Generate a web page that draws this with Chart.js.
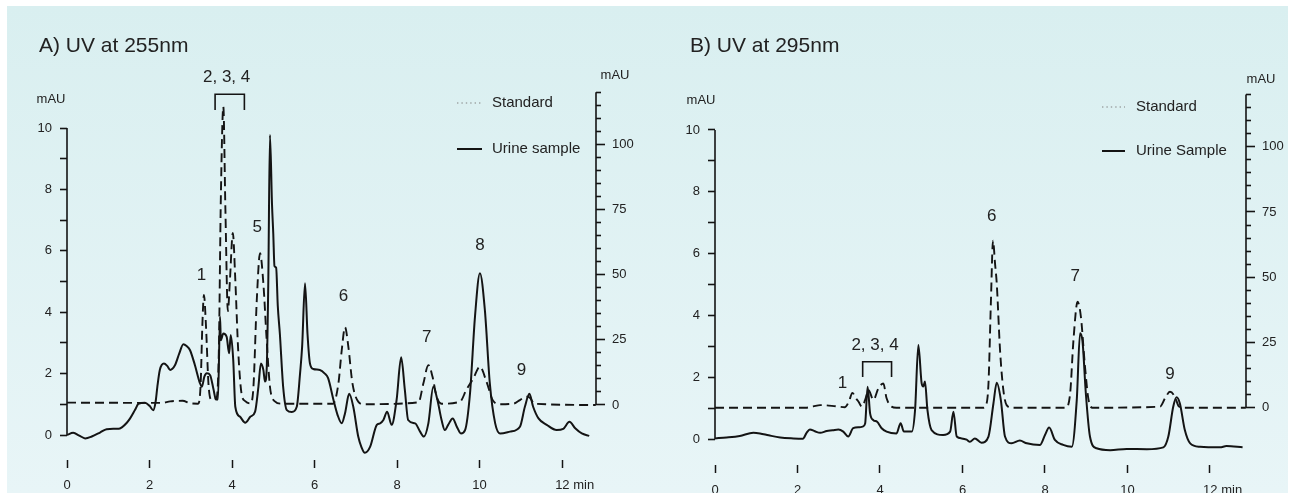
<!DOCTYPE html>
<html>
<head>
<meta charset="utf-8">
<script src="https://cdn.jsdelivr.net/npm/chart.js"></script>
<style>
  html, body { margin: 0; padding: 0; background: #fff; width: 1291px; height: 493px; overflow: hidden; }
  #panel { position: absolute; left: 7px; top: 6px; width: 1281px; height: 487px;
           background: linear-gradient(#d9eff0, #e8f5f7); }
  canvas { position: absolute; top: 0; }
</style>
</head>
<body>
<div id="panel"></div>
<canvas id="uv255" width="645" height="493" style="left:0"></canvas>
<canvas id="uv295" width="646" height="493" style="left:645px"></canvas>
<script>
// ---- axis ticks ----
const TIME_TICKS = [0, 2, 4, 6, 8, 10, 12];
const MAU_TICKS = [0, 1, 2, 3, 4, 5, 6, 7, 8, 9, 10];
const MAU_STD_TICKS = [0, 5, 10, 15, 20, 25, 30, 35, 40, 45, 50, 55, 60,
                       65, 70, 75, 80, 85, 90, 95, 100, 105, 110, 115, 120];

// ---- A) 255 nm : urine sample (left axis, mAU) ----
const urine255_min = [0.00, 0.15, 0.30, 0.44, 0.60, 0.80, 0.96, 1.12, 1.25, 1.33, 1.45, 1.53, 1.65, 1.73,
  1.89, 2.00, 2.09, 2.15, 2.19, 2.25, 2.35, 2.43, 2.50, 2.62, 2.72, 2.82, 2.90, 2.98, 3.10, 3.22, 3.27,
  3.33, 3.39, 3.47, 3.55, 3.61, 3.66, 3.71, 3.73, 3.79, 3.87, 3.93, 3.97, 4.03, 4.08, 4.19, 4.32, 4.45,
  4.56, 4.64, 4.70, 4.76, 4.80, 4.84, 4.88, 4.92, 4.97, 5.00, 5.03, 5.07, 5.11, 5.16, 5.24, 5.33, 5.45,
  5.57, 5.65, 5.70, 5.77, 5.83, 5.89, 5.97, 6.13, 6.25, 6.33, 6.46, 6.56, 6.66, 6.74, 6.84, 6.94, 7.06,
  7.14, 7.22, 7.35, 7.51, 7.59, 7.67, 7.76, 7.87, 7.99, 8.10, 8.19, 8.27, 8.44, 8.56, 8.65, 8.76, 8.88,
  8.98, 9.08, 9.16, 9.24, 9.35, 9.45, 9.55, 9.65, 9.77, 9.89, 10.01, 10.13, 10.25, 10.38, 10.50, 10.74,
  10.98, 11.10, 11.21, 11.30, 11.43, 11.63, 11.87, 12.03, 12.18, 12.32, 12.48, 12.66];
const urine255_mAU = [0.00, 0.07, -0.02, -0.11, -0.05, 0.08, 0.19, 0.20, 0.20, 0.25, 0.40, 0.54, 0.82, 1.01,
  1.05, 0.95, 0.81, 1.10, 1.57, 2.12, 2.33, 2.25, 2.12, 2.28, 2.65, 2.96, 2.90, 2.77, 2.28, 1.70, 1.57,
  1.90, 2.01, 1.95, 1.50, 1.16, 1.16, 3.85, 3.09, 3.31, 3.20, 2.66, 3.26, 2.44, 0.92, 0.60, 0.40, 0.60,
  0.76, 1.57, 2.33, 2.12, 1.74, 2.12, 5.00, 9.77, 7.50, 6.57, 5.50, 5.45, 4.20, 3.30, 1.57, 0.81, 0.75,
  0.92, 2.01, 2.88, 4.94, 3.30, 2.33, 2.15, 2.12, 2.00, 1.85, 1.14, 0.65, 0.38, 0.71, 1.34, 0.92, -0.05,
  -0.40, -0.58, -0.38, 0.33, 0.38, 0.49, 0.76, 0.33, 1.14, 2.53, 1.47, 0.49, 0.38, 0.11, -0.05, 0.38, 1.57,
  1.14, 0.49, 0.16, 0.33, 0.54, 0.27, 0.05, 0.16, 1.36, 3.85, 5.27, 4.07, 1.68, 0.38, 0.05, 0.11,
  0.27, 0.92, 1.34, 0.92, 0.54, 0.33, 0.16, 0.20, 0.43, 0.22, 0.05, -0.03];

// ---- A) 255 nm : standard (right axis, mAU) ----
const std255_min = [0.00, 2.30, 2.50, 2.80, 3.00, 3.18, 3.24, 3.28, 3.32, 3.37, 3.43, 3.50, 3.62, 3.68,
  3.73, 3.79, 3.84, 3.90, 3.95, 4.02, 4.08, 4.15, 4.23, 4.32, 4.45, 4.52, 4.60, 4.68, 4.76, 4.84, 4.92,
  5.04, 5.20, 6.45, 6.58, 6.66, 6.74, 6.82, 6.92, 7.06, 7.20, 8.52, 8.64, 8.76, 8.86, 8.96, 9.08, 9.53,
  9.68, 9.85, 10.01, 10.17, 10.33, 10.50, 10.82, 10.98, 11.14, 11.22, 11.33, 12.82];
const std255_mAU = [0.9, 0.8, 1.4, 1.6, 0.6, 0.5, 8, 30, 42.2, 30, 8, 2, 2.5, 20,
  80, 114.4, 75, 36, 48, 66, 48, 21, 4.5, 1.5, 0.6, 7, 40, 58.2, 46.7, 25, 7,
  1.4, 0.5, 0.5, 8.3, 21, 29.8, 22.4, 8.3, 1.3, 0.3, 1.0, 8.3, 15.3, 10.9, 3.2, 0.5, 1.3,
  5.8, 10.2, 14.7, 8.9, 1.6, 0.3, 0.5, 1.9, 3.2, 2.8, 0.5, 0];

// ---- B) 295 nm : urine sample (left axis, mAU) ----
const urine295_min = [0.00, 0.28, 0.60, 0.93, 1.09, 1.30, 1.58, 1.90, 2.13, 2.22, 2.30, 2.42, 2.55, 2.71,
  2.85, 2.99, 3.11, 3.23, 3.35, 3.50, 3.58, 3.64, 3.70, 3.76, 3.84, 3.93, 4.04, 4.16, 4.40, 4.50, 4.58,
  4.77, 4.85, 4.93, 5.01, 5.05, 5.09, 5.15, 5.25, 5.53, 5.70, 5.78, 5.86, 5.98, 6.10, 6.18, 6.30, 6.46,
  6.63, 6.75, 6.83, 6.93, 7.03, 7.19, 7.39, 7.56, 7.88, 8.00, 8.10, 8.24, 8.44, 8.65, 8.77, 8.85, 8.91,
  8.99, 9.09, 9.25, 9.58, 9.98, 10.47, 10.87, 10.99, 11.11, 11.19, 11.27, 11.39, 11.52, 11.76, 12.24,
  12.40, 12.79];
const urine295_mAU = [0.02, 0.05, 0.10, 0.20, 0.18, 0.12, 0.05, 0.02, 0.01, 0.20, 0.31, 0.25, 0.20, 0.26,
  0.28, 0.31, 0.24, 0.08, 0.35, 0.38, 0.40, 0.50, 1.69, 0.83, 0.61, 0.56, 0.35, 0.24, 0.18, 0.51, 0.24,
  0.24, 0.94, 3.04, 1.80, 1.70, 1.86, 0.94, 0.29, 0.13, 0.24, 0.88, 0.08, 0.02, -0.02, -0.09, 0.02, -0.12,
  0.08, 1.15, 1.82, 1.26, 0.08, -0.14, -0.05, -0.14, -0.19, 0.13, 0.37, -0.03, -0.19, -0.25, 1.26, 3.42, 3.15,
  1.48, 0.08, -0.30, -0.36, -0.32, -0.33, -0.27, 0.08, 1.05, 1.35, 1.15, 0.29, -0.14, -0.25, -0.27,
  -0.23, -0.27];

// ---- B) 295 nm : standard (right axis, mAU) ----
const std295_min = [0.00, 2.20, 2.38, 2.55, 2.95, 3.15, 3.25, 3.33, 3.42, 3.48, 3.56, 3.64, 3.72, 3.84,
  3.96, 4.08, 4.16, 4.28, 4.40, 6.50, 6.57, 6.63, 6.69, 6.74, 6.79, 6.83, 6.91, 6.99, 7.07, 7.20, 8.50,
  8.61, 8.69, 8.79, 8.87, 8.97, 9.05, 9.15, 10.79, 10.91, 11.03, 11.15, 11.24, 11.35, 12.87];
const std295_mAU = [0, 0, 0.5, 1.0, 0.5, 0.2, 2.5, 5.7, 3.5, 2.3, 0.4, 3.0, 6.8, 3.0,
  7.4, 9.3, 3.6, 0.4, 0, 0, 1.0, 9.3, 41.3, 64, 55, 47.7, 22.1, 6.8, 1.0, 0, 0,
  5.5, 25.9, 40.6, 34.9, 15.7, 3.6, 0, 0.4, 3.6, 6.1, 4.2, 0.6, 0, 0];

// ---- peak numbers (retention time, left-axis height) ----
const peaks255 = [
  { text: '1', t: 3.26, v: 5.21 }, { text: '2, 3, 4', t: 3.87, v: 11.65 },
  { text: '5', t: 4.61, v: 6.75 }, { text: '6', t: 6.70, v: 4.53 },
  { text: '7', t: 8.72, v: 3.18 }, { text: '8', t: 10.01, v: 6.19 },
  { text: '9', t: 11.02, v: 2.12 }];
const peaks295 = [
  { text: '1', t: 3.09, v: 1.80 }, { text: '2, 3, 4', t: 3.88, v: 3.04 },
  { text: '6', t: 6.71, v: 7.22 }, { text: '7', t: 8.73, v: 5.25 },
  { text: '9', t: 11.03, v: 2.10 }];

const INK = '#141414';
const TEXT = '#222';
const FONT = "'Liberation Sans', Arial, Helvetica, sans-serif";

const points = (ts, vs) => ts.map((t, i) => ({ x: t, y: vs[i] }));
const asTicks = vals => vals.map(v => ({ value: v }));

// spines only over the labelled range, titles, units, peak numbers, legend
const decor = {
  id: 'decor',
  afterDraw(chart, args, o) {
    const { ctx, chartArea: a, scales: { x, y, y2 } } = chart;
    ctx.save();
    ctx.strokeStyle = INK;
    ctx.lineWidth = 1.6;
    ctx.beginPath();
    ctx.moveTo(a.left, y.getPixelForValue(0));
    ctx.lineTo(a.left, y.getPixelForValue(10));
    ctx.moveTo(a.right, y2.getPixelForValue(0));
    ctx.lineTo(a.right, y2.getPixelForValue(120));
    ctx.stroke();

    ctx.fillStyle = TEXT;
    ctx.textBaseline = 'middle';
    ctx.textAlign = 'left';
    ctx.font = `21px ${FONT}`;
    ctx.fillText(o.title, o.titleX, o.titleY);

    ctx.textAlign = 'center';
    ctx.font = `13px ${FONT}`;
    o.units.forEach(u => ctx.fillText('mAU', u.x, u.y));

    ctx.font = `17px ${FONT}`;
    o.peaks.forEach(p => ctx.fillText(p.text, x.getPixelForValue(p.t), y.getPixelForValue(p.v)));

    const b = o.bracket;
    ctx.lineWidth = 1.6;
    ctx.beginPath();
    ctx.moveTo(x.getPixelForValue(b.from), y.getPixelForValue(b.leg));
    ctx.lineTo(x.getPixelForValue(b.from), y.getPixelForValue(b.top));
    ctx.lineTo(x.getPixelForValue(b.to), y.getPixelForValue(b.top));
    ctx.lineTo(x.getPixelForValue(b.to), y.getPixelForValue(b.leg));
    ctx.stroke();

    ctx.font = `15px ${FONT}`;
    ctx.textAlign = 'left';
    chart.data.datasets.forEach((ds, i) => {
      const ly = o.legend.y[i];
      ctx.beginPath();
      ctx.setLineDash(i === 0 ? [1.4, 3] : []);
      ctx.strokeStyle = i === 0 ? '#808080' : INK;
      ctx.lineWidth = i === 0 ? 1.2 : 2;
      ctx.moveTo(o.legend.x0, ly);
      ctx.lineTo(o.legend.x1, ly);
      ctx.stroke();
      ctx.fillText(ds.label, o.legend.tx, ly);
    });
    ctx.restore();
  }
};

function chromatogram(id, s) {
  const tickFont = { family: FONT, size: 13 };
  return new Chart(document.getElementById(id), {
    type: 'line',
    data: {
      datasets: [{
        label: 'Standard',
        yAxisID: 'y2',
        data: points(s.stdT, s.stdV),
        borderColor: INK,
        borderWidth: 1.9,
        borderDash: [9, 5],
        pointRadius: 0,
        cubicInterpolationMode: 'monotone'
      }, {
        label: s.sampleLabel,
        yAxisID: 'y',
        data: points(s.urT, s.urV),
        borderColor: INK,
        borderWidth: 2,
        pointRadius: 0,
        cubicInterpolationMode: 'monotone'
      }]
    },
    options: {
      responsive: false,
      animation: false,
      events: [],
      layout: { padding: { top: s.top, left: 0, right: 0, bottom: 0 } },
      plugins: { legend: { display: false }, tooltip: { enabled: false }, decor: s.decor },
      scales: {
        x: {
          type: 'linear', min: 0, max: s.tMax,
          afterBuildTicks: sc => { sc.ticks = asTicks(TIME_TICKS); },
          afterFit: sc => { sc.height = s.xH; },
          border: { display: false },
          grid: { drawOnChartArea: false, tickLength: 8, tickWidth: 1.5, tickColor: INK },
          ticks: {
            padding: 10, maxRotation: 0, autoSkip: false, color: TEXT, font: tickFont,
            callback: v => v === 12 ? '       12 min' : String(v)
          }
        },
        y: {
          type: 'linear', position: 'left', min: s.yMin, max: s.yMax,
          afterBuildTicks: sc => { sc.ticks = asTicks(MAU_TICKS); },
          afterFit: sc => { sc.width = s.leftW; },
          border: { display: false },
          grid: { drawOnChartArea: false, tickLength: 7, tickWidth: 1.6, tickColor: INK },
          ticks: {
            padding: 8, autoSkip: false, color: TEXT, font: tickFont,
            callback: v => v % 2 === 0 ? String(v) : ''
          }
        },
        y2: {
          type: 'linear', position: 'right', min: s.y2Min, max: s.y2Max,
          afterBuildTicks: sc => { sc.ticks = asTicks(MAU_STD_TICKS); },
          afterFit: sc => { sc.width = s.rightW; },
          border: { display: false },
          grid: {
            drawOnChartArea: false, tickLength: 9, tickWidth: 1.6, tickColor: INK,
            tickBorderDash: c => (c.tick && c.tick.value % 25 === 0) ? [] : [5, 20]
          },
          ticks: {
            padding: 7, autoSkip: false, color: TEXT, font: tickFont,
            callback: v => (v % 25 === 0 && v <= 100) ? String(v) : ''
          }
        }
      }
    },
    plugins: [decor]
  });
}

chromatogram('uv255', {
  sampleLabel: 'Urine sample',
  urT: urine255_min, urV: urine255_mAU, stdT: std255_min, stdV: std255_mAU,
  top: 80, xH: 33, leftW: 67, rightW: 49,
  tMax: 12.824, yMin: -0.8143, yMax: 11.564, y2Min: -21.10, y2Max: 124.66,
  decor: {
    title: 'A) UV at 255nm', titleX: 39, titleY: 46,
    units: [{ x: 51, y: 99 }, { x: 615, y: 75 }],
    peaks: peaks255,
    bracket: { from: 3.59, to: 4.30, top: 11.10, leg: 10.59 },
    legend: { x0: 457, x1: 482, tx: 492, y: [103, 149] }
  }
});

chromatogram('uv295', {
  sampleLabel: 'Urine Sample',
  urT: urine295_min, urV: urine295_mAU, stdT: std295_min, stdV: std295_mAU,
  top: 80, xH: 28, leftW: 70, rightW: 45,
  tMax: 12.873, yMin: -0.841, yMax: 11.618, y2Min: -21.95, y2Max: 125.56,
  decor: {
    title: 'B) UV at 295nm', titleX: 45, titleY: 46,
    units: [{ x: 56, y: 100 }, { x: 616, y: 79 }],
    peaks: peaks295,
    bracket: { from: 3.58, to: 4.28, top: 2.50, leg: 2.01 },
    legend: { x0: 457, x1: 480, tx: 491, y: [107, 151] }
  }
});
</script>
</body>
</html>
